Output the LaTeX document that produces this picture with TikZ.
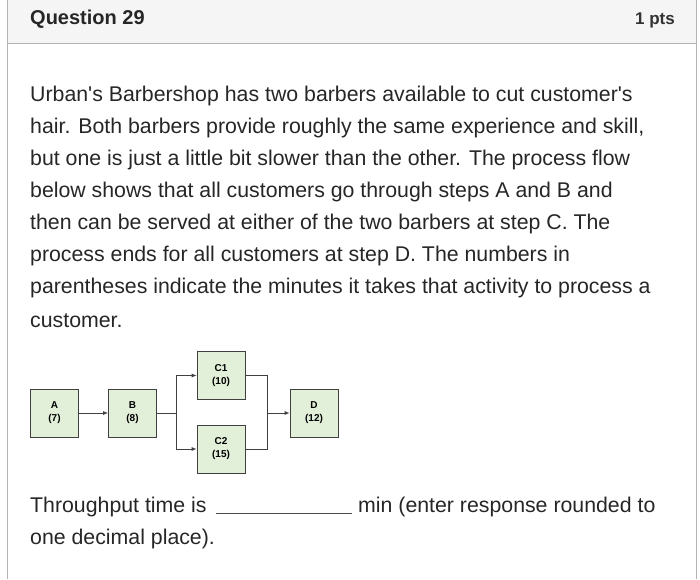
\documentclass[tikz,border=0pt]{standalone}
\usepackage{fontspec}
\setmainfont{Liberation Sans}
\usetikzlibrary{arrows.meta}
\definecolor{boxfill}{RGB}{226,239,217}
\begin{document}
\begin{tikzpicture}[x=1pt,y=-1pt,
  txt/.style={anchor=base west,inner sep=0pt,font=\fontsize{21.3}{24}\selectfont,text=black!85},
  box/.style={draw=black!75,fill=boxfill,minimum width=48pt,minimum height=48pt,inner sep=0pt,align=center,font=\fontsize{10}{13}\selectfont\bfseries,line width=0.7pt},
  con/.style={draw=black!75,line width=0.8pt},
  arr/.style={con,-{Latex[length=5pt,width=4pt]}}]
\useasboundingbox (0,0) rectangle (700,579);
\fill[black!4] (7,0) rectangle (696,43);
\draw[black!30,line width=1pt] (7,0) -- (7,579) (696,0) -- (696,579) (7,43) -- (696,43);
\node[anchor=base west,inner sep=0pt,font=\fontsize{20}{22}\selectfont\bfseries,text=black!85] (q) at (30,24) {Question 29};
\node[anchor=base east,inner sep=0pt,font=\fontsize{17}{20}\selectfont\bfseries,text=black!80] (p) at (675,24) {1 pts};
\node[txt] (l1) at (30,101) {Urban\textquotesingle s Barbershop has two barbers available to cut customer\textquotesingle s};
\node[txt] (l2) at (30,133) {hair. Both barbers provide roughly the same experience and skill,};
\node[txt] (l3) at (30,165) {but one is just a little bit slower than the other. The process flow};
\node[txt] (l4) at (30,197) {below shows that all customers go through steps A and B and};
\node[txt] (l5) at (30,229) {then can be served at either of the two barbers at step C. The};
\node[txt] (l6) at (30,261) {process ends for all customers at step D. The numbers in};
\node[txt] (l7) at (30,293) {parentheses indicate the minutes it takes that activity to process a};
\node[txt] (l8) at (30,327) {customer.};
\node[box] (A) at (54.5,413) {A\\(7)};
\node[box] (B) at (132.5,413) {B\\(8)};
\node[box] (C1) at (221,375.5) {C1\\(10)};
\node[box] (C2) at (221,449) {C2\\(15)};
\node[box] (D) at (314,413) {D\\(12)};
\coordinate (s) at (176,413);
\coordinate (m) at (267,413);
\draw[arr] (A) -- (B);
\draw[con] (B) -- (s);
\draw[arr] (s) |- (C1);
\draw[arr] (s) |- (C2);
\draw[con] (C1) -| (m);
\draw[con] (C2) -| (m);
\draw[arr] (m) -- (D);
\node[txt] (t1) at (30,512) {Throughput time is};
\coordinate (b1) at (216,513);
\coordinate (b2) at (352,513);
\draw[black!70,line width=0.8pt] (b1) -- (b2);
\node[txt] (t2) at (358,512) {min (enter response rounded to};
\node[txt] (t3) at (30,544) {one decimal place).};
\end{tikzpicture}
\end{document}
